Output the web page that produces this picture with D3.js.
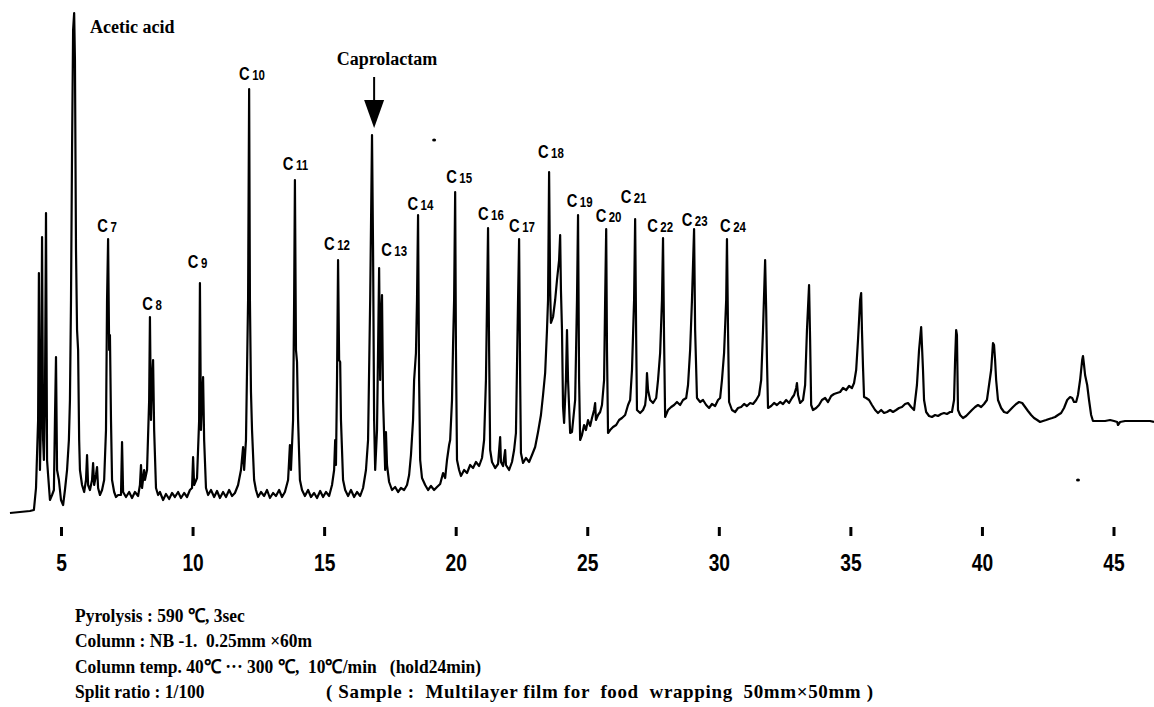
<!DOCTYPE html>
<html>
<head>
<meta charset="utf-8">
<script src="https://cdn.jsdelivr.net/npm/d3@7"></script>
<style>
    body { margin: 0; background: #fff; }
    svg { display: block; }
</style>
</head>
<body>
<div id="chart"></div>
<script>
// pyrogram trace: [retention time (min), detector signal]
var trace = [
    [3.06,-1],[3.44,0],[3.82,1],[3.97,2],[4.05,24],[4.13,92],[4.16,239],[4.20,42],[4.24,92],[4.28,275],
    [4.32,72],[4.35,52],[4.39,112],[4.43,299],[4.47,52],[4.51,37],[4.58,12],[4.66,17],[4.73,22],[4.77,92],
    [4.81,155],[4.85,42],[4.92,32],[5.00,12],[5.08,7],[5.15,22],[5.23,42],[5.30,72],[5.34,112],[5.38,212],
    [5.42,362],[5.46,482],[5.50,499],[5.53,452],[5.57,262],[5.61,182],[5.65,162],[5.69,72],[5.72,42],[5.80,27],
    [5.88,20],[5.95,32],[5.99,57],[6.03,27],[6.10,22],[6.18,32],[6.22,49],[6.26,27],[6.33,37],[6.37,45],
    [6.41,24],[6.48,17],[6.56,22],[6.64,32],[6.71,82],[6.75,212],[6.79,273],[6.83,162],[6.86,177],[6.90,92],
    [6.94,32],[7.02,20],[7.09,15],[7.17,17],[7.28,17],[7.32,70],[7.36,20],[7.47,15],[7.59,20],[7.70,14],
    [7.81,20],[7.93,16],[8.00,27],[8.04,47],[8.08,24],[8.16,42],[8.19,32],[8.27,42],[8.35,112],[8.38,195],
    [8.42,92],[8.46,132],[8.50,152],[8.54,82],[8.61,24],[8.69,17],[8.76,20],[8.88,12],[8.99,18],[9.11,13],
    [9.22,19],[9.33,15],[9.45,20],[9.56,14],[9.68,19],[9.79,15],[9.90,22],[9.98,24],[10.02,55],[10.06,27],
    [10.17,34],[10.25,92],[10.28,229],[10.32,82],[10.36,112],[10.40,135],[10.44,72],[10.51,24],[10.59,17],[10.70,22],
    [10.82,15],[10.93,21],[11.04,14],[11.16,20],[11.27,15],[11.39,22],[11.50,16],[11.61,19],[11.73,27],[11.84,42],
    [11.92,65],[11.96,42],[12.03,72],[12.11,212],[12.15,423],[12.18,212],[12.22,120],[12.26,82],[12.34,32],[12.41,22],
    [12.49,15],[12.60,20],[12.72,16],[12.83,22],[12.94,14],[13.06,19],[13.17,16],[13.29,22],[13.40,15],[13.51,20],
    [13.63,32],[13.70,67],[13.74,42],[13.82,92],[13.86,212],[13.89,332],[13.93,162],[13.97,150],[14.01,92],[14.08,32],
    [14.16,22],[14.27,16],[14.39,22],[14.50,15],[14.62,19],[14.73,14],[14.85,21],[14.96,15],[15.07,20],[15.19,16],
    [15.30,27],[15.38,42],[15.42,72],[15.45,47],[15.49,132],[15.53,252],[15.57,152],[15.61,150],[15.64,92],[15.72,32],
    [15.80,22],[15.91,16],[16.02,22],[16.14,15],[16.25,20],[16.37,16],[16.48,24],[16.59,42],[16.67,72],[16.75,212],
    [16.82,377],[16.86,262],[16.90,92],[16.94,42],[17.01,82],[17.05,162],[17.09,244],[17.13,132],[17.16,192],[17.20,217],
    [17.24,112],[17.32,42],[17.35,80],[17.39,47],[17.47,30],[17.58,22],[17.70,25],[17.81,20],[17.92,24],[18.04,22],
    [18.15,27],[18.23,37],[18.30,57],[18.38,92],[18.42,132],[18.49,159],[18.53,212],[18.57,297],[18.61,132],[18.65,52],
    [18.72,34],[18.84,27],[18.95,22],[19.06,26],[19.18,22],[19.29,25],[19.41,28],[19.52,39],[19.60,34],[19.67,52],
    [19.75,67],[19.79,72],[19.86,112],[19.90,167],[19.94,212],[19.98,320],[20.01,162],[20.05,52],[20.13,42],[20.20,36],
    [20.32,42],[20.43,39],[20.55,47],[20.66,44],[20.77,50],[20.89,46],[21.00,54],[21.08,72],[21.15,132],[21.23,284],
    [21.27,162],[21.31,62],[21.38,50],[21.50,44],[21.61,48],[21.69,75],[21.72,50],[21.80,46],[21.88,62],[21.91,47],
    [22.03,42],[22.14,50],[22.22,62],[22.29,79],[22.37,212],[22.41,273],[22.45,132],[22.48,59],[22.56,49],[22.67,54],
    [22.79,50],[22.90,57],[23.02,65],[23.13,80],[23.24,97],[23.32,117],[23.40,139],[23.47,182],[23.51,212],[23.55,340],
    [23.59,222],[23.62,189],[23.70,195],[23.78,212],[23.85,232],[23.93,252],[23.97,277],[24.00,222],[24.04,182],[24.08,105],
    [24.12,89],[24.19,132],[24.23,182],[24.27,132],[24.35,79],[24.42,80],[24.54,112],[24.61,212],[24.65,297],[24.69,132],
    [24.73,72],[24.80,77],[24.88,87],[24.95,82],[25.03,92],[25.11,86],[25.18,94],[25.26,102],[25.30,109],[25.33,92],
    [25.41,97],[25.49,100],[25.56,107],[25.64,132],[25.68,212],[25.72,283],[25.75,162],[25.79,79],[25.87,82],[25.98,85],
    [26.10,87],[26.21,92],[26.32,94],[26.44,97],[26.55,107],[26.63,112],[26.70,142],[26.78,212],[26.82,293],[26.86,172],
    [26.89,102],[27.01,99],[27.12,102],[27.20,107],[27.24,117],[27.27,139],[27.31,122],[27.39,112],[27.50,109],[27.62,114],
    [27.69,132],[27.77,159],[27.84,212],[27.88,274],[27.92,172],[27.96,95],[28.07,102],[28.19,105],[28.30,107],[28.41,110],
    [28.53,107],[28.64,112],[28.76,114],[28.83,127],[28.91,162],[28.98,212],[29.06,283],[29.10,182],[29.17,114],[29.29,110],
    [29.40,112],[29.52,107],[29.63,104],[29.74,108],[29.86,106],[29.97,112],[30.05,114],[30.12,132],[30.20,159],[30.28,212],
    [30.31,273],[30.35,182],[30.39,110],[30.50,102],[30.62,100],[30.73,104],[30.85,105],[30.96,108],[31.07,106],[31.19,109],
    [31.30,108],[31.42,112],[31.53,117],[31.61,132],[31.68,182],[31.76,252],[31.80,202],[31.83,152],[31.87,104],[31.99,106],
    [32.10,109],[32.21,107],[32.33,110],[32.44,108],[32.56,112],[32.67,109],[32.78,114],[32.86,117],[32.94,124],[32.97,129],
    [33.01,117],[33.09,109],[33.20,112],[33.28,127],[33.35,182],[33.43,227],[33.47,172],[33.51,107],[33.58,102],[33.70,104],
    [33.81,107],[33.92,112],[34.04,114],[34.15,110],[34.27,116],[34.38,118],[34.49,119],[34.61,120],[34.72,124],[34.84,122],
    [34.95,126],[35.06,124],[35.14,129],[35.22,142],[35.29,172],[35.37,212],[35.41,219],[35.44,182],[35.48,145],[35.52,115],
    [35.60,114],[35.71,112],[35.82,107],[35.94,102],[36.05,99],[36.17,102],[36.28,99],[36.39,100],[36.51,102],[36.62,100],
    [36.74,102],[36.85,104],[36.96,105],[37.08,108],[37.19,109],[37.31,105],[37.42,102],[37.53,127],[37.61,162],[37.69,185],
    [37.72,167],[37.76,142],[37.80,112],[37.88,100],[37.99,96],[38.10,95],[38.22,97],[38.33,96],[38.45,98],[38.56,99],
    [38.67,98],[38.79,100],[38.86,100],[38.94,112],[38.98,152],[39.02,182],[39.05,177],[39.09,102],[39.17,97],[39.28,94],
    [39.40,96],[39.51,99],[39.62,102],[39.74,105],[39.85,107],[39.97,105],[40.08,108],[40.19,112],[40.27,127],[40.35,142],
    [40.42,169],[40.46,167],[40.50,152],[40.54,132],[40.61,112],[40.73,104],[40.84,100],[40.96,99],[41.07,102],[41.18,105],
    [41.30,108],[41.41,110],[41.53,109],[41.64,105],[41.75,101],[41.87,97],[41.98,94],[42.10,92],[42.21,90],[42.32,91],
    [42.44,92],[42.55,93],[42.67,94],[42.78,95],[42.89,97],[43.01,99],[43.12,104],[43.24,112],[43.35,115],[43.43,114],
    [43.50,110],[43.58,110],[43.65,117],[43.73,132],[43.81,152],[43.84,156],[43.88,147],[43.92,137],[44.00,127],[44.07,112],
    [44.15,97],[44.22,91],[44.34,91],[44.49,91],[44.68,91],[44.87,92],[45.02,91],[45.14,90],[45.17,87],[45.25,90],
    [45.44,91],[45.63,91],[45.82,91],[46.01,91],[46.20,91],[46.39,91],[46.54,90]
];

var axisTicks = [5, 10, 15, 20, 25, 30, 35, 40, 45];

// carbon number markers: carbon number, label anchor time and level
var carbonNumbers = [7, 8, 9, 10, 11, 12, 13, 14, 15, 16, 17, 18, 19, 20, 21, 22, 23, 24];
var carbonLabelTime = [6.75, 8.46, 10.19, 12.26, 13.91, 15.49, 17.66, 18.66, 20.13, 21.34, 22.52, 23.62, 24.71, 25.81, 26.76, 27.77, 29.08, 30.54];
var carbonLabelLevel = [280, 202, 244, 432, 342, 262, 256, 302, 329, 292, 280, 354, 305, 290, 309, 280, 286, 280];

var compoundNames = ["Acetic acid", "Caprolactam"];
var compoundTime = [6.10, 17.39];
var compoundLevel = [479, 447];

// arrow pointing at the caprolactam peak
var arrowTime = 16.90;
var arrowFrom = 435;
var arrowTo = 384;

// stray specks of the scanned print
var specks = [[43.65, 32], [19.18, 372]];

var captionLines = [
    "Pyrolysis : 590 ℃, 3sec",
    "Column : NB -1.  0.25mm ×60m",
    "Column temp. 40℃ ··· 300 ℃,  10℃/min   (hold24min)",
    "Split ratio : 1/100"
];
var sampleNote = "( Sample :  Multilayer film for  food  wrapping  50mm×50mm )";

var width = 1154, height = 707;

var svg = d3.select("#chart").append("svg")
    .attr("width", width)
    .attr("height", height);

// x in minutes, y in arbitrary signal units
var x = d3.scaleLinear().domain([5, 45]).range([61, 1113.5]);
var y = d3.scaleLinear().domain([0, 500]).range([512, 12]);

var line = d3.line()
    .x(function (d) { return x(d[0]); })
    .y(function (d) { return y(d[1]); });

svg.append("path")
    .datum(trace)
    .attr("d", line)
    .attr("fill", "none")
    .attr("stroke", "#000")
    .attr("stroke-width", 2.2)
    .attr("stroke-linejoin", "round");

svg.selectAll(".speck")
    .data(specks)
    .enter().append("ellipse")
    .attr("class", "speck")
    .attr("cx", function (d) { return x(d[0]); })
    .attr("cy", function (d) { return y(d[1]); })
    .attr("rx", 2)
    .attr("ry", 1.6)
    .attr("fill", "#000");

// time axis: short ticks, no domain line
var xAxis = d3.axisBottom(x)
    .tickValues(axisTicks)
    .tickSize(9)
    .tickFormat(d3.format("d"));

var axisG = svg.append("g")
    .attr("transform", "translate(0,527)")
    .call(xAxis);
axisG.select(".domain").remove();
axisG.selectAll(".tick line")
    .attr("stroke", "#000")
    .attr("stroke-width", 3);
// condensed look of the printed digits
axisG.selectAll(".tick text")
    .attr("y", 0)
    .attr("dy", 0)
    .attr("transform", "translate(0,44) scale(0.8,1)")
    .attr("fill", "#000")
    .style("font-family", "'Liberation Sans', Arial, sans-serif")
    .style("font-weight", "bold")
    .style("font-size", "24px");

// carbon number labels
var cLabels = svg.selectAll(".clabel")
    .data(carbonNumbers)
    .enter().append("text")
    .attr("class", "clabel")
    .attr("transform", function (d, i) {
        return "translate(" + x(carbonLabelTime[i]) + "," + y(carbonLabelLevel[i]) + ") scale(0.82,1)";
    })
    .attr("text-anchor", "middle")
    .style("font-family", "'Liberation Sans', Arial, sans-serif")
    .style("font-weight", "bold");
cLabels.append("tspan")
    .style("font-size", "18px")
    .text("C");
cLabels.append("tspan")
    .attr("dx", 3)
    .style("font-size", "14px")
    .text(function (d) { return d; });

// compound labels
svg.selectAll(".compound")
    .data(compoundNames)
    .enter().append("text")
    .attr("class", "compound")
    .attr("x", function (d, i) { return x(compoundTime[i]); })
    .attr("y", function (d, i) { return y(compoundLevel[i]); })
    .attr("text-anchor", function (d, i) { return i == 0 ? "start" : "middle"; })
    .style("font-family", "'Liberation Serif', 'Times New Roman', serif")
    .style("font-weight", "bold")
    .style("font-size", "18px")
    .text(function (d) { return d; });

// arrow
var ax = x(arrowTime);
svg.append("line")
    .attr("x1", ax).attr("x2", ax)
    .attr("y1", y(arrowFrom)).attr("y2", y(arrowTo) - 20)
    .attr("stroke", "#000")
    .attr("stroke-width", 2);
svg.append("path")
    .attr("d", "M" + (ax - 10) + "," + (y(arrowTo) - 28) + "L" + (ax + 10) + "," + (y(arrowTo) - 28) + "L" + ax + "," + y(arrowTo) + "Z")
    .attr("fill", "#000");

// conditions below the chart
var caption = svg.append("g")
    .style("font-family", "'Liberation Serif', 'Times New Roman', serif")
    .style("font-weight", "bold")
    .style("font-size", "19px");
caption.selectAll("text")
    .data(captionLines)
    .enter().append("text")
    .attr("xml:space", "preserve")
    .attr("transform", function (d, i) { return "translate(75," + (622 + i * 25.3) + ") scale(0.92,1)"; })
    .text(function (d) { return d; });
caption.append("text")
    .attr("xml:space", "preserve")
    .attr("x", 326)
    .attr("y", 622 + 3 * 25.3)
    .attr("textLength", 547)
    .attr("lengthAdjust", "spacing")
    .text(sampleNote);
</script>
</body>
</html>
